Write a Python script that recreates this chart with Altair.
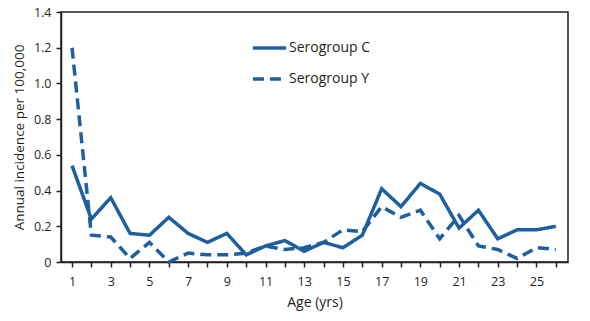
import altair as alt
import pandas as pd

ages = list(range(1, 27))
sero_c = [0.54, 0.24, 0.36, 0.16, 0.15, 0.25, 0.16, 0.11, 0.16, 0.04, 0.09, 0.12, 0.06,
          0.11, 0.08, 0.15, 0.41, 0.31, 0.44, 0.38, 0.19, 0.29, 0.13, 0.18, 0.18, 0.20]
sero_y = [1.20, 0.15, 0.14, 0.02, 0.11, 0.00, 0.05, 0.04, 0.04, 0.05, 0.09, 0.07, 0.08,
          0.11, 0.18, 0.17, 0.31, 0.25, 0.29, 0.13, 0.26, 0.09, 0.07, 0.02, 0.08, 0.07]
series_names = ["Serogroup C", "Serogroup Y"]

df = pd.concat([
    pd.DataFrame({"age": ages, "value": sero_c, "series": series_names[0]}),
    pd.DataFrame({"age": ages, "value": sero_y, "series": series_names[1]}),
])

FONT = "Open Sans"
BLUE = "#1d5f9f"
DARK = "#231f20"

chart = alt.Chart(df).mark_line(strokeWidth=3.5, color=BLUE).encode(
    x=alt.X("age:Q",
            scale=alt.Scale(domain=[0.43, 26.63], nice=False, zero=False),
            axis=alt.Axis(values=ages, title="Age (yrs)",
                          labelExpr="datum.value % 2 == 1 ? datum.label : ''",
                          grid=False, tickSize=5, tickColor=DARK, tickWidth=1.5,
                          domainColor=DARK, domainWidth=1.5,
                          labelFontSize=12.5, labelColor=DARK, labelPadding=8,
                          titleFontSize=14, titleFontWeight="normal", titleColor=DARK,
                          titlePadding=8)),
    y=alt.Y("value:Q",
            scale=alt.Scale(domain=[0, 1.4], nice=False),
            axis=alt.Axis(values=[0, 0.2, 0.4, 0.6, 0.8, 1.0, 1.2, 1.4],
                          title="Annual incidence per 100,000",
                          labelExpr="datum.value == 0 ? '0' : format(datum.value, '.1f')",
                          grid=False, tickSize=5, tickColor=DARK, tickWidth=1.5,
                          domainColor=DARK, domainWidth=1.5,
                          labelFontSize=12.5, labelColor=DARK, labelPadding=5,
                          titleFontSize=13.5, titleFontWeight="normal", titleColor=DARK,
                          titlePadding=7)),
    strokeDash=alt.StrokeDash("series:N",
                              scale=alt.Scale(domain=series_names, range=[[1, 0], [11, 6]]),
                              legend=alt.Legend(title=None, orient="none",
                                                legendX=190, legendY=28,
                                                symbolType="stroke", symbolSize=1100,
                                                symbolStrokeWidth=3.5,
                                                symbolStrokeColor=BLUE,
                                                clipHeight=16, rowPadding=15,
                                                labelFontSize=14, labelColor=DARK,
                                                labelFont=FONT, labelOffset=1)),
).properties(
    width=507, height=250,
    autosize=alt.AutoSizeParams(type="none"),
    padding={"left": 61, "top": 12, "right": 22, "bottom": 59},
).configure(
    font=FONT,
).configure_view(
    stroke=DARK, strokeWidth=1.5,
)

chart.save("out.html", embed_options={"renderer": "svg", "actions": False})
